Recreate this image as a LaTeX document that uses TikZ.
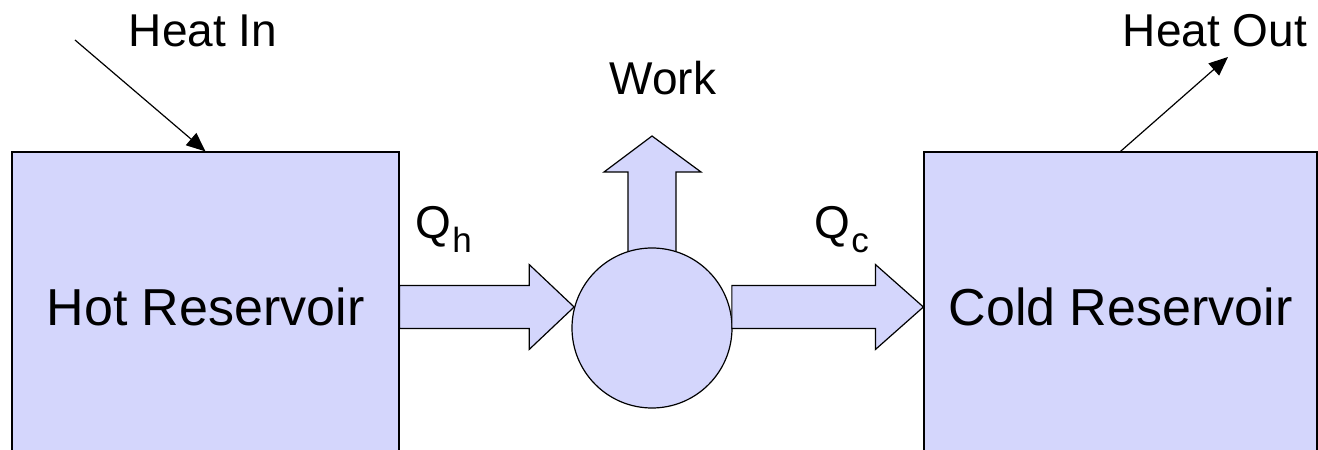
\documentclass[tikz,border=0pt]{standalone}
\usepackage{fontspec}
\setmainfont{Liberation Sans}
\usetikzlibrary{arrows.meta, calc}
\definecolor{resv}{RGB}{212,214,252}

\begin{document}
\begin{tikzpicture}[x=1pt, y=1pt, >={Triangle[length=19pt, width=16pt]},
    line width=1.2pt, font=\fontsize{46}{55}\selectfont,
    reservoir/.style={draw, fill=resv, minimum height=310pt, inner sep=0pt,
                      font=\fontsize{52}{60}\selectfont},
    flow/.style={draw, fill=resv, line join=miter},
    lbl/.style={anchor=base, inner sep=0pt}]
  \useasboundingbox (0,0) rectangle (1318,450);
  \clip (0,0) rectangle (1318,450);

  \node[reservoir, minimum width=387pt] (hot) at (205.5,143) {Hot Reservoir};
  \node[reservoir, minimum width=393pt] (cold) at (1120.5,143) {Cold Reservoir};
  \coordinate (engc) at (652,122);
  \coordinate (wtip) at (652,314);

  % work leaves the engine (drawn before it, so the circle hides its foot)
  \draw[flow] let \p1=(engc), \p2=(wtip) in
    (\x1-24,\y1) -- (\x1-24,\y2-36) -- (\x1-48,\y2-36) -- (\x2,\y2)
    -- (\x1+49,\y2-36) -- (\x1+24,\y2-36) -- (\x1+24,\y1) -- cycle;
  \node[draw, fill=resv, circle, minimum size=160pt, inner sep=0pt] (eng) at (engc) {};

  \node[lbl] (work) at (663,355) {Work};
  \node[lbl] (hin) at (203,403) {Heat In};
  \node[lbl] (hout) at (1215,403) {Heat Out};
  \node[lbl, anchor=base west] (qh) at (415,211)
    {Q\kern1pt\raisebox{-14pt}{\fontsize{35}{40}\selectfont h}};
  \node[lbl, anchor=base west] (qc) at (814,211)
    {Q\kern1pt\raisebox{-14pt}{\fontsize{35}{40}\selectfont c}};

  % heat flowing in and out of the reservoirs
  \coordinate (hinstart) at (75,410);
  \coordinate (houtend) at (1228,393);
  \draw[->] (hinstart) -- (hot.north);
  \draw[->] (cold.north) -- (houtend);

  % block arrows
  \draw[flow] let \p1=(hot.east), \p2=(eng.165) in
    (\x1,\y1+21.5) -- (\x2-45,\y1+21.5) -- (\x2-45,\y1+42.5) -- (\x2,\y1)
    -- (\x2-45,\y1-42.5) -- (\x2-45,\y1-21.5) -- (\x1,\y1-21.5) -- cycle;
  \draw[flow] let \p1=(eng.15), \p2=(cold.west) in
    (\x1+2,\y2+21.5) -- (\x2-48,\y2+21.5) -- (\x2-48,\y2+42.5) -- (\x2,\y2)
    -- (\x2-48,\y2-42.5) -- (\x2-48,\y2-21.5) -- (\x1+2,\y2-21.5) -- cycle;
\end{tikzpicture}
\end{document}
